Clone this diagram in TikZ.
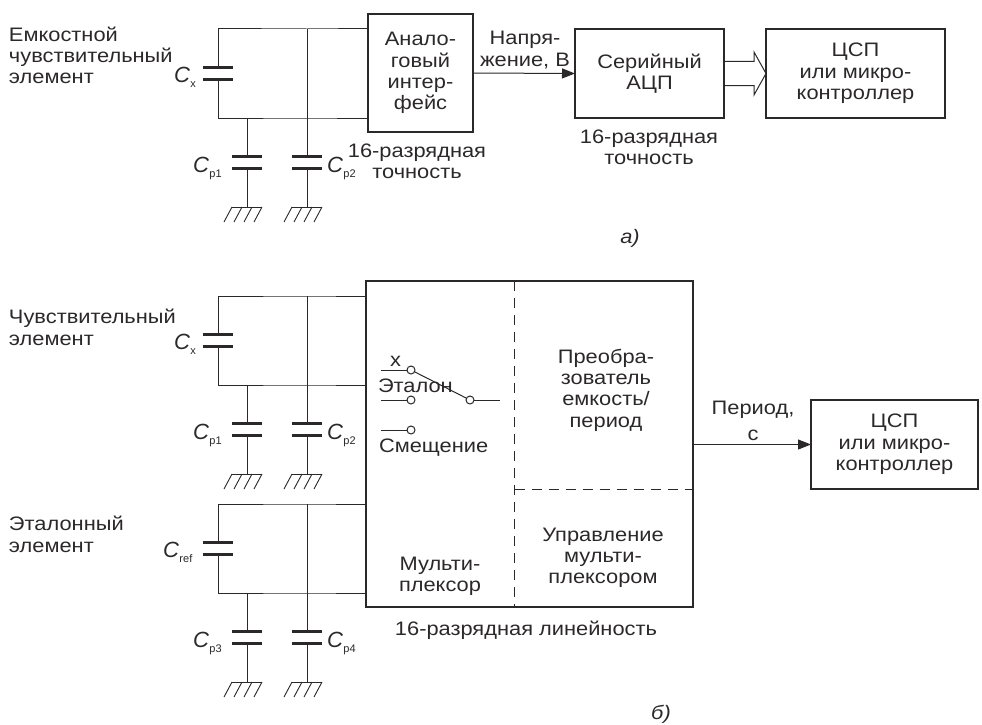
\documentclass[tikz,border=0pt]{standalone}
\usepackage{fontspec}
\setmainfont[FakeStretch=1.12]{Liberation Sans}
\newfontfamily\plainsans{Liberation Sans}
\usetikzlibrary{arrows.meta}
\definecolor{ink}{HTML}{2B2829}
\tikzset{
  x=1pt,y=-1pt,
  every node/.style={text=ink,inner sep=0pt,outer sep=0pt},
  lbl/.style={font=\fontsize{19.5}{21.3}\selectfont,align=center},
  lbll/.style={font=\fontsize{19.5}{21.3}\selectfont,align=left,anchor=base west},
  block/.style={draw=ink,line width=2pt,font=\fontsize{19.5}{21.3}\selectfont,align=center},
  wire/.style={draw=ink,line width=1pt},
  plate/.style={draw=ink,line width=3pt},
  gndline/.style={draw=ink,line width=0.9pt},
  dashline/.style={draw=ink,line width=0.9pt,dash pattern=on 10pt off 7pt},
  sig/.style={draw=ink,line width=1pt,-{Triangle[length=13pt,width=10pt]}},
  contact/.style={circle,draw=ink,line width=1pt,fill=white,minimum size=8pt},
  caplbl/.style={anchor=base west},
}
\newcommand{\capL}[2]{{\plainsans\fontsize{22}{22}\selectfont\itshape C}\raisebox{-5.5pt}{\hspace{0.6pt}\plainsans\fontsize{11}{11}\selectfont #2}}
\newcommand{\plates}[3]{%
  \coordinate (#1a) at (#2,#3);
  \coordinate (#1b) at (#2,#3+12);
  \draw[plate] ([xshift=-15pt]#1a) -- ([xshift=15pt]#1a);
  \draw[plate] ([xshift=-15pt]#1b) -- ([xshift=15pt]#1b);
}
\newcommand{\earth}[3]{%
  \coordinate (#1) at (#2,#3);
  \draw[gndline] ([xshift=-15pt]#1) -- ([xshift=15pt]#1);
  \foreach \d in {-15,-5,5,15}{\draw[gndline] ([xshift=\d pt]#1) -- ([xshift=\d pt-8pt,yshift=-15pt]#1);}
}
% prefix, top y, box, C label x, C sub, p1 sub, p2 sub
\newcommand{\sensor}[7]{%
  \coordinate (#1tl) at (218,#2);
  \coordinate (#1tj) at (307,#2);
  \coordinate (#1bl) at (218,#2+89);
  \coordinate (#1bm) at (247,#2+89);
  \coordinate (#1bj) at (307,#2+89);
  \plates{#1cx}{218}{#2+38.5}
  \plates{#1cp}{247}{#2+127}
  \plates{#1cq}{307}{#2+127}
  \earth{#1gp}{247}{#2+178}
  \earth{#1gq}{307}{#2+178}
  \draw[wire] (#1cxa) -- (#1tl) -- (#1tj) -- (#1tj -| #3.west);
  \draw[wire] (#1cxb) -- (#1bl) -- (#1bj) -- (#1bj -| #3.west);
  \draw[wire] (#1tj) -- (#1cqa);
  \draw[wire] (#1bm) -- (#1cpa);
  \draw[wire] (#1cpb) -- (#1gp);
  \draw[wire] (#1cqb) -- (#1gq);
  \node[caplbl] (#1lx) at (#4,#2+53) {\capL{C}{#5}};
  \node[caplbl] (#1lp) at (193,#2+143) {\capL{C}{#6}};
  \node[caplbl] (#1lq) at (327,#2+143) {\capL{C}{#7}};
}
\begin{document}
\begin{tikzpicture}
\path[use as bounding box] (0,0) rectangle (982,725);
% panel a
\node[block,minimum width=105pt,minimum height=118pt] (an) at (420.5,73) {Анало-\\говый\\интер-\\фейс};
\node[block,minimum width=149pt,minimum height=89pt] (adc) at (649.5,73.5) {Серийный\\АЦП};
\node[block,minimum width=179pt,minimum height=89pt] (dspa) at (855.5,73.5) {ЦСП\\или микро-\\контроллер};
\sensor{A}{29}{an}{174}{x}{p1}{p2}
\draw[sig] (an.east) -- (adc.west);
\coordinate (h1) at (754,61.5);
\coordinate (h2) at (754,52);
\coordinate (h3) at (754,95);
\coordinate (h4) at (754,85.5);
\draw[wire] (h1 -| adc.east) -- (h1) -- (h2) -- (dspa.west) -- (h3) -- (h4) -- (h4 -| adc.east);
\node[lbll] (t1) at (9,84) {Емкостной\\чувствительный\\элемент};
\node[lbl] (t2) at (525,50) {Напря-\\жение, В};
\node[lbl] (t3) at (417,161) {16-разрядная\\точность};
\node[lbl] (t4) at (649,147) {16-разрядная\\точность};
\node[font=\fontsize{19.5}{21}\selectfont\itshape] (t5) at (630,238) {а)};
% panel b
\node[draw=ink,line width=2pt,minimum width=327pt,minimum height=326pt] (mux) at (529.5,444) {};
\node[block,minimum width=167pt,minimum height=89pt] (dspb) at (894.5,444.5) {ЦСП\\или микро-\\контроллер};
\sensor{B}{296}{mux}{174}{x}{p1}{p2}
\sensor{R}{504}{mux}{163}{ref}{p3}{p4}
\coordinate (dv) at (514.5,281);
\coordinate (dh) at (514.5,489);
\draw[dashline] (dv) -- (dv |- mux.south);
\draw[dashline] (dh) -- (dh -| mux.east);
\draw[sig] (mux.east |- dspb.west) -- (dspb.west);
% switch
\node[contact] (k1) at (411,370) {};
\node[contact] (k2) at (411,400) {};
\node[contact] (k3) at (411,430) {};
\node[contact] (k4) at (470,400) {};
\coordinate (s1) at (381,370);
\coordinate (s2) at (381,400);
\coordinate (s3) at (381,430);
\coordinate (s4) at (500,400);
\draw[wire] (s1) -- (k1);
\draw[wire] (s2) -- (k2);
\draw[wire] (s3) -- (k3);
\draw[wire] (k4) -- (s4);
\draw[wire] (k1) -- (k4);
\node[lbll] (x1) at (390,366) {х};
\node[lbll] (x2) at (378,392) {Эталон};
\node[lbll] (x3) at (379,452) {Смещение};
\node[lbll] (x4) at (9,345) {Чувствительный\\элемент};
\node[lbll] (x5) at (9,552) {Эталонный\\элемент};
\node[lbl] (x6) at (440,576) {Мульти-\\плексор};
\node[lbl] (x7) at (606,390) {Преобра-\\зователь\\емкость/\\период};
\node[lbl] (x8) at (603,558) {Управление\\мульти-\\плексором};
\node[lbl] (x9) at (753,421) {Период,\\[4pt]с};
\node[lbl] (x10) at (526,630) {16-разрядная линейность};
\node[font=\fontsize{19.5}{21}\selectfont\itshape] (x11) at (661,714) {б)};
\end{tikzpicture}
\end{document}
